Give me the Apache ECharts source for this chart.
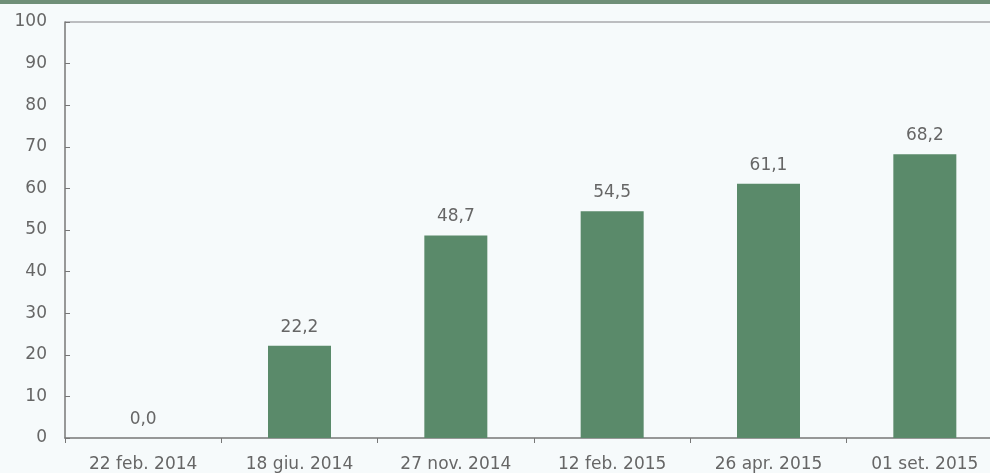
<!DOCTYPE html>
<html><head><meta charset="utf-8">
<script src="https://cdn.jsdelivr.net/npm/echarts@6/dist/echarts.min.js"></script>
<style>html,body{margin:0;padding:0;background:#f6fafb;overflow:hidden;}#c{width:1003px;height:473px;}</style>
</head><body><div id="c"></div>
<script>
const categories = ['22 feb. 2014','18 giu. 2014','27 nov. 2014','12 feb. 2015','26 apr. 2015','01 set. 2015'];
const values = [0.0, 22.2, 48.7, 54.5, 61.1, 68.2];
const yTicks = [0,10,20,30,40,50,60,70,80,90,100];
const chart = echarts.init(document.getElementById('c'));
const font = 'DejaVu Sans';
chart.setOption({
  backgroundColor: '#f6fafb',
  animation: false,
  graphic: [
    {type:'rect', shape:{x:0,y:0,width:1003,height:4}, style:{fill:'#6f8f78'}},
    {type:'line', shape:{x1:65,y1:22,x2:1003,y2:22}, style:{stroke:'#a9a9ad',lineWidth:1.5}}
  ],
  grid: {left: 65, top: 22, right: 0, height: 417},
  xAxis: {
    type: 'category', data: categories,
    axisLine: {lineStyle: {color: '#777', width: 1.5}},
    axisTick: {show: true, length: 5, inside: false, lineStyle: {color: '#777'}},
    axisLabel: {color: '#666', fontFamily: font, fontSize: 17, margin: 18, interval: 0}
  },
  yAxis: {
    type: 'value', min: yTicks[0], max: yTicks[yTicks.length-1], interval: 10,
    splitLine: {show: false},
    axisLine: {show: true, lineStyle: {color: '#777', width: 1.5}},
    axisTick: {show: true, inside: true, length: 5, lineStyle: {color: '#777'}},
    axisLabel: {color: '#666', fontFamily: font, fontSize: 17, margin: 18}
  },
  series: [{
    type: 'bar', data: values, barWidth: 63,
    itemStyle: {color: '#5a8a6a'},
    label: {show: true, position: 'top', distance: 10, color: '#666', fontFamily: font, fontSize: 17,
      formatter: p => p.value.toFixed(1).replace('.', ',')}
  }]
});
</script></body></html>
